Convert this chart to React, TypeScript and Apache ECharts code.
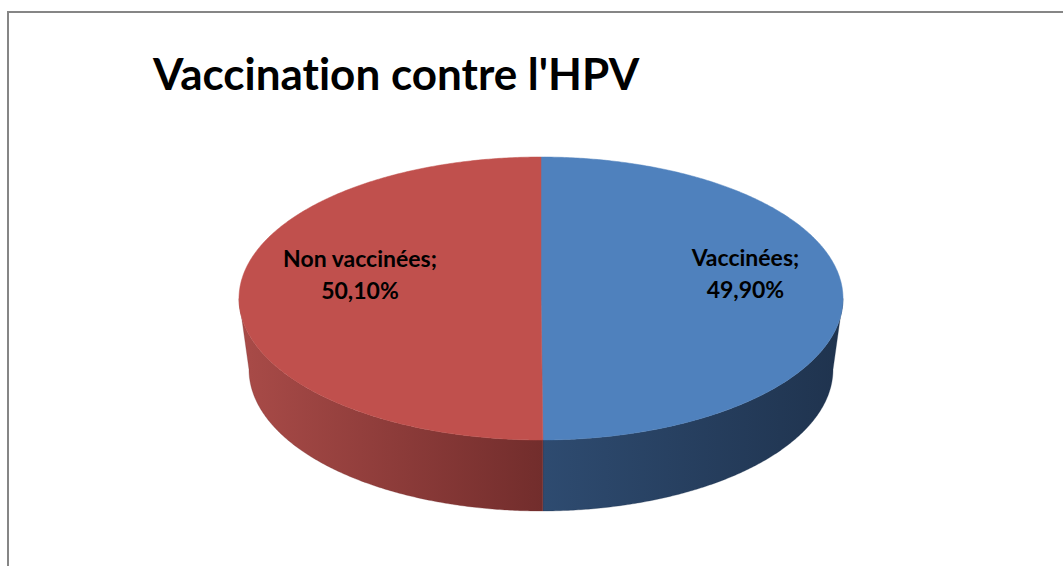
import React, { useEffect, useRef } from "react";
import * as echarts from "echarts";

const titleText = "Vaccination contre l'HPV";
const categories = ["Vaccinées", "Non vaccinées"];
const values = [49.9, 50.1];
const topColors = ["#4F81BD", "#C0504D"];
const sideColors = [
  ["#2E4B70", "#1F334E"],
  ["#A94B48", "#722D2C"],
];

const LABEL_SIZE = 23;
const LABEL_FONT = `bold ${LABEL_SIZE}px Lato`;

function measure(text: string): number {
  const c = document.createElement("canvas");
  const ctx = c.getContext("2d");
  if (!ctx) return text.length * 12;
  ctx.font = LABEL_FONT;
  return ctx.measureText(text).width;
}

function fmt(v: number): string {
  return v.toFixed(2).replace(".", ",") + "%";
}

export default function App() {
  const ref = useRef<HTMLDivElement>(null);
  useEffect(() => {
    if (!ref.current) return;
    const chart = echarts.init(ref.current, undefined, { renderer: "svg" });
    const total = values.reduce((a, b) => a + b, 0);
    const starts: number[] = [];
    let acc = 0;
    values.forEach((v) => {
      starts.push((acc / total) * Math.PI * 2);
      acc += v;
    });

    // geometry of the 3D disc
    const cx = 541, cy = 298.5, rx = 302, ry = 141.5;
    const bcx = 541, bcy = 369.5, brx = 292, bry = 141.5;
    const pt = (t: number, x0: number, y0: number, a: number, b: number) => [
      x0 + a * Math.sin(t),
      y0 - b * Math.cos(t),
    ];
    const arc = (t0: number, t1: number, x0: number, y0: number, a: number, b: number) => {
      const pts: number[][] = [];
      const n = Math.max(2, Math.ceil(Math.abs(t1 - t0) / (Math.PI / 360)));
      for (let i = 0; i <= n; i++) {
        pts.push(pt(t0 + ((t1 - t0) * i) / n, x0, y0, a, b));
      }
      return pts;
    };

    const renderItem = (params: any, api: any) => {
      const i = params.dataIndex;
      const v = api.value(0);
      const a0 = starts[i];
      const a1 = a0 + (v / total) * Math.PI * 2;
      const children: any[] = [];
      // side (front half: PI/2 .. 3PI/2)
      const s0 = Math.max(a0, Math.PI / 2);
      const s1 = Math.min(a1, (Math.PI * 3) / 2);
      if (s1 > s0) {
        const topArc = arc(s0, s1, cx, cy, rx, ry);
        const botArc = arc(s1, s0, bcx, bcy, brx, bry);
        const pts = topArc.concat(botArc);
        const xs = pts.map((p) => p[0]);
        const minX = Math.min(...xs), maxX = Math.max(...xs);
        children.push({
          type: "polygon",
          shape: { points: pts },
          style: {
            fill: new echarts.graphic.LinearGradient(
              minX, 0, maxX, 0,
              [
                { offset: 0, color: sideColors[i][0] },
                { offset: 1, color: sideColors[i][1] },
              ],
              true
            ),
            stroke: sideColors[i][1],
            lineWidth: 0.3,
          },
        });
      }
      // top
      const topPts = [[cx, cy]].concat(arc(a0, a1, cx, cy, rx, ry));
      children.push({
        type: "polygon",
        shape: { points: topPts },
        style: { fill: topColors[i], stroke: topColors[i], lineWidth: 0.5 },
      });
      // label
      const line1 = categories[i] + ";";
      const line2 = fmt(v);
      const w = Math.max(measure(line1), measure(line2));
      const mid = (a0 + a1) / 2;
      const lx = cx + Math.sin(mid) * (0.855 * rx - w / 2);
      const ly = cy - Math.cos(mid) * ry * 0.6 - 25;
      children.push({
        type: "text",
        x: lx,
        y: ly,
        style: {
          text: line1 + "\n" + line2,
          fill: "#000000",
          fontFamily: "Lato",
          fontWeight: "bold",
          fontSize: LABEL_SIZE,
          lineHeight: 32,
          align: "center",
          verticalAlign: "middle",
        },
      });
      return { type: "group", children };
    };

    chart.setOption({
      animation: false,
      backgroundColor: "#ffffff",
      title: {
        text: titleText,
        left: 148,
        top: 46,
        textStyle: {
          fontFamily: "Lato",
          fontWeight: "bold",
          fontSize: 44,
          color: "#000000",
        },
      },
      graphic: [
        {
          type: "rect",
          silent: true,
          shape: { x: 8, y: 12, width: 1100, height: 600 },
          style: { fill: "none", stroke: "#868686", lineWidth: 2 },
        },
      ],
      series: [
        {
          type: "custom",
          coordinateSystem: "none",
          renderItem,
          data: values.map((v, i) => ({ name: categories[i], value: [v] })),
        },
      ],
    });
    return () => chart.dispose();
  }, []);
  return (
    <>
      <style>{"svg text { font-variant-ligatures: none; }"}</style>
      <div
        ref={ref}
        style={{ position: "absolute", left: 0, top: 0, width: 1063, height: 566 }}
      />
    </>
  );
}
